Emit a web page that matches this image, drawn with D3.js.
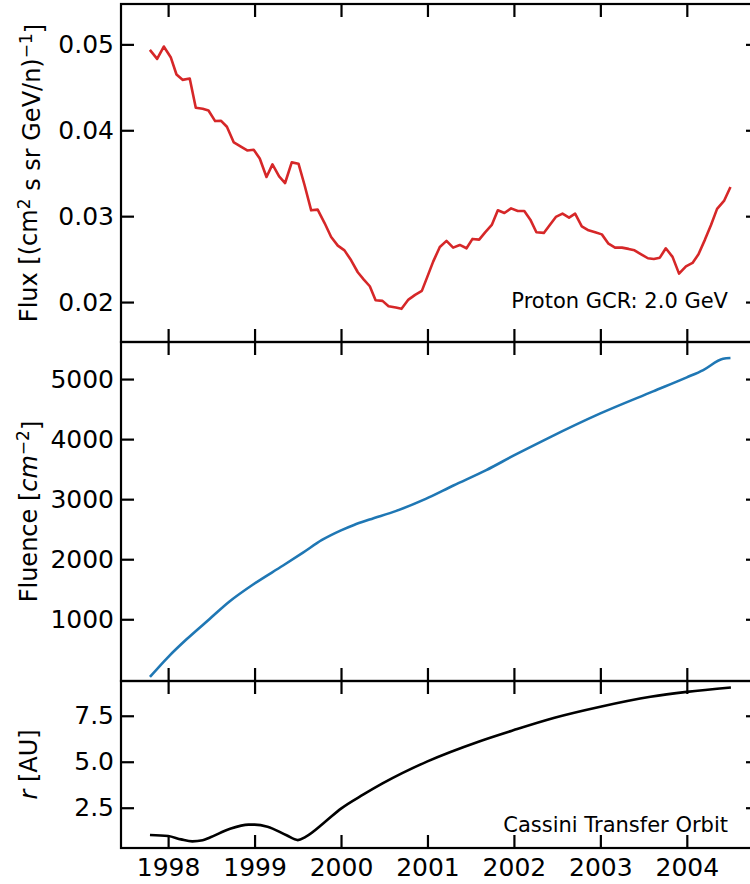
<!DOCTYPE html>
<html>
<head>
<meta charset="utf-8">
<script src="https://cdn.jsdelivr.net/npm/d3@7"></script>
<style>
body { margin: 0; background: #fff; }
svg { font-family: "DejaVu Sans", sans-serif; }
.tick line { stroke: #000; stroke-width: 2.2; }
</style>
</head>
<body>
<svg width="750" height="884"></svg>
<script>
var svg = d3.select("svg");

// proton GCR flux, 2.0 GeV
var fluxYears = [1997.789, 1997.873, 1997.95, 1998.03, 1998.097, 1998.167, 1998.25, 1998.32, 1998.40, 1998.467,
  1998.544, 1998.613, 1998.68, 1998.76, 1998.837, 1998.915, 1998.99, 1999.06, 1999.138, 1999.207,
  1999.284, 1999.353, 1999.43, 1999.508, 1999.578, 1999.655, 1999.73, 1999.81, 1999.886, 1999.963,
  2000.04, 2000.117, 2000.194, 2000.264, 2000.333, 2000.40, 2000.48, 2000.55, 2000.634, 2000.70,
  2000.78, 2000.857, 2000.935, 2000.997, 2001.066, 2001.143, 2001.22, 2001.297, 2001.374, 2001.452,
  2001.521, 2001.598, 2001.667, 2001.744, 2001.814, 2001.89, 2001.967, 2002.045, 2002.12, 2002.19,
  2002.26, 2002.346, 2002.415, 2002.485, 2002.562, 2002.638, 2002.708, 2002.785, 2002.863, 2002.94,
  2003.017, 2003.094, 2003.17, 2003.25, 2003.326, 2003.395, 2003.472, 2003.55, 2003.618, 2003.688,
  2003.757, 2003.835, 2003.91, 2003.99, 2004.066, 2004.135, 2004.21, 2004.28, 2004.35, 2004.43, 2004.505];
var fluxValues = [0.04936, 0.04831, 0.04975, 0.04851, 0.04649, 0.04587, 0.04602, 0.04262, 0.0425, 0.0423,
  0.04107, 0.0411, 0.04041, 0.03858, 0.03812, 0.03765, 0.03773, 0.03672, 0.03456, 0.03603,
  0.03463, 0.03386, 0.03626, 0.03611, 0.03363, 0.03068, 0.03076, 0.0292, 0.02758, 0.02657,
  0.02602, 0.02486, 0.02347, 0.02262, 0.02184, 0.02021, 0.02014, 0.01951, 0.01936, 0.01921,
  0.02029, 0.02084, 0.0213, 0.0229, 0.02471, 0.02642, 0.02712, 0.02634, 0.02665, 0.02626,
  0.02735, 0.02727, 0.02812, 0.02898, 0.03068, 0.03037, 0.03091, 0.0306, 0.0306, 0.02959,
  0.02812, 0.02805, 0.02898, 0.02991, 0.03029, 0.02983, 0.03029, 0.02881, 0.02835, 0.02812,
  0.02788, 0.0268, 0.02634, 0.02634, 0.02619, 0.02602, 0.02556, 0.0251, 0.02502, 0.02517,
  0.02626, 0.02526, 0.02331, 0.02416, 0.02456, 0.02556, 0.02727, 0.02898, 0.03085, 0.03177, 0.03339];

// cumulative fluence
var fluenceYears = [1997.79, 1998.0, 1998.21, 1998.48, 1998.71, 1999.0, 1999.33, 1999.56, 1999.78, 2000.0,
  2000.15, 2000.33, 2000.64, 2000.98, 2001.3, 2001.68, 2002.0, 2002.38, 2003.0, 2003.61,
  2004.0, 2004.19, 2004.42, 2004.505];
var fluenceValues = [40, 371, 662, 1005, 1295, 1595, 1895, 2110, 2320, 2480,
  2570, 2660, 2805, 3005, 3228, 3483, 3728, 4005, 4428, 4795,
  5028, 5150, 5338, 5350];

// heliocentric distance
var rYears = [1997.79, 1998.0, 1998.15, 1998.28, 1998.40, 1998.49, 1998.71, 1998.93, 1999.0, 1999.15,
  1999.37, 1999.50, 1999.59, 1999.82, 2000.0, 2000.26, 2000.48, 2001.0, 2001.59, 2002.0,
  2002.47, 2003.0, 2003.58, 2004.0, 2004.51];
var rValues = [1.02, 0.96, 0.78, 0.67, 0.73, 0.89, 1.34, 1.58, 1.58, 1.47,
  1.0, 0.74, 0.92, 1.75, 2.45, 3.22, 3.82, 5.02, 6.09, 6.72,
  7.39, 7.99, 8.53, 8.80, 9.04];

var yearTicks = [1998, 1999, 2000, 2001, 2002, 2003, 2004];
var fluxTicks = [0.02, 0.03, 0.04, 0.05];
var fluenceTicks = [1000, 2000, 3000, 4000, 5000];
var rTicks = [2.5, 5.0, 7.5];

var left = 121, right = 759, tick = 13;

var x = d3.scaleLinear().domain([1997.455, 2004.835]).range([left, right]);

var panels = [
  {top: 4, bottom: 342, domain: [0.01535, 0.0547], ticks: fluxTicks, fmt: d3.format(".2f"),
   xs: fluxYears, ys: fluxValues, color: "#d62728", curve: d3.curveLinear, showX: false},
  {top: 342, bottom: 681, domain: [-28, 5617], ticks: fluenceTicks, fmt: d3.format("d"),
   xs: fluenceYears, ys: fluenceValues, color: "#1f77b4", curve: d3.curveMonotoneX, showX: false},
  {top: 681, bottom: 848, domain: [0.31, 9.39], ticks: rTicks, fmt: d3.format(".1f"),
   xs: rYears, ys: rValues, color: "#000", curve: d3.curveMonotoneX, showX: true}
];

function styleAxis(g) {
  g.select(".domain").remove();
  g.attr("font-family", null).attr("font-size", null);
  g.selectAll("text")
    .style("font-family", "'DejaVu Sans', sans-serif")
    .style("font-size", "25px")
    .attr("fill", "#000");
}

panels.forEach(function(p) {
  var y = d3.scaleLinear().domain(p.domain).range([p.bottom, p.top]);

  var line = d3.line()
    .x(function(d, i) { return x(p.xs[i]); })
    .y(function(d) { return y(d); })
    .curve(p.curve);

  svg.append("path")
    .datum(p.ys)
    .attr("fill", "none")
    .attr("stroke", p.color)
    .attr("stroke-width", 2.6)
    .attr("stroke-linejoin", "round")
    .attr("d", line);

  svg.append("g")
    .attr("transform", "translate(" + left + ",0)")
    .call(d3.axisLeft(y).tickValues(p.ticks).tickFormat(p.fmt)
      .tickSizeInner(-tick).tickSizeOuter(0).tickPadding(7))
    .call(styleAxis);

  svg.append("g")
    .attr("transform", "translate(" + right + ",0)")
    .call(d3.axisRight(y).tickValues(p.ticks).tickFormat("")
      .tickSizeInner(-tick).tickSizeOuter(0))
    .call(styleAxis);

  svg.append("g")
    .attr("transform", "translate(0," + p.top + ")")
    .call(d3.axisTop(x).tickValues(yearTicks).tickFormat("")
      .tickSizeInner(-tick).tickSizeOuter(0))
    .call(styleAxis);

  svg.append("g")
    .attr("transform", "translate(0," + p.bottom + ")")
    .call(d3.axisBottom(x).tickValues(yearTicks).tickFormat(p.showX ? d3.format("d") : "")
      .tickSizeInner(-tick).tickSizeOuter(0).tickPadding(10))
    .call(styleAxis);

  svg.append("rect")
    .attr("x", left).attr("y", p.top)
    .attr("width", right - left).attr("height", p.bottom - p.top)
    .attr("fill", "none").attr("stroke", "#000").attr("stroke-width", 2.2);
});

// y labels
function yLabel(cy) {
  return svg.append("text")
    .attr("transform", "translate(37," + cy + ") rotate(-90)")
    .attr("text-anchor", "middle")
    .style("font-size", "24px");
}

var t1 = yLabel(173);
t1.append("tspan").text("Flux [(cm");
t1.append("tspan").attr("dy", "-0.42em").style("font-size", "17px").text("2");
t1.append("tspan").attr("dy", "0.42em").text(" s sr GeV/n)");
t1.append("tspan").attr("dy", "-0.45em").style("font-size", "17px").text("\u22121");
t1.append("tspan").attr("dy", "0.45em").text("]");

var t2 = yLabel(511.5);
t2.append("tspan").text("Fluence [");
t2.append("tspan").style("font-style", "italic").text("cm");
t2.append("tspan").attr("dy", "-0.45em").style("font-size", "17px").text("\u22122");
t2.append("tspan").attr("dy", "0.45em").text("]");

var t3 = yLabel(764.5);
t3.append("tspan").style("font-style", "italic").text("r");
t3.append("tspan").text(" [AU]");

// annotations
svg.append("text")
  .attr("x", 728).attr("y", 308)
  .attr("text-anchor", "end")
  .style("font-size", "21px")
  .text("Proton GCR: 2.0 GeV");

svg.append("text")
  .attr("x", 728).attr("y", 832)
  .attr("text-anchor", "end")
  .style("font-size", "21px")
  .text("Cassini Transfer Orbit");
</script>
</body>
</html>
